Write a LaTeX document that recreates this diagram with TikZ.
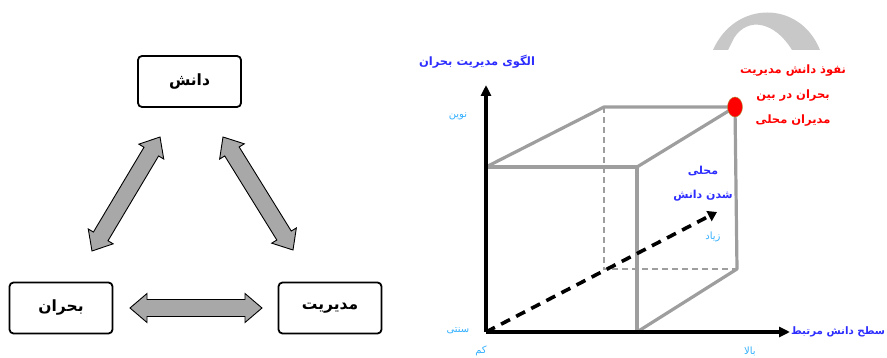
\documentclass[tikz,border=0pt]{standalone}
\usepackage{fontspec}
\newfontfamily\fa[Script=Arabic]{DejaVu Sans}
\TeXXeTstate=1
\usetikzlibrary{calc,arrows.meta,shapes.geometric}
\definecolor{labblue}{RGB}{45,45,255}
\definecolor{lightb}{RGB}{50,175,255}
\definecolor{cubegray}{RGB}{158,158,158}
\definecolor{arrgray}{RGB}{168,168,168}
\definecolor{topgray}{RGB}{200,200,200}
\definecolor{dotedge}{RGB}{170,150,60}
\newcommand\rtl[1]{\beginR #1\endR}
\newcommand\fatarrow[2]{%
  \coordinate (fa1) at ($(#1)!17pt!(#2)$);
  \coordinate (fa2) at ($(#2)!17pt!(#1)$);
  \draw[fatarrowstyle] (#1) -- ($(fa1)!14.5pt!90:(#2)$) -- ($(fa1)!8.5pt!90:(#2)$)
    -- ($(fa2)!8.5pt!-90:(#1)$) -- ($(fa2)!14.5pt!-90:(#1)$) -- (#2)
    -- ($(fa2)!14.5pt!90:(#1)$) -- ($(fa2)!8.5pt!90:(#1)$)
    -- ($(fa1)!8.5pt!-90:(#2)$) -- ($(fa1)!14.5pt!-90:(#2)$) -- cycle;}
\begin{document}
\begin{tikzpicture}[x=1pt,y=-1pt,
  box/.style={draw=black, line width=1.8pt, rounded corners=4pt, fill=white,
    minimum width=103pt, minimum height=51pt, inner sep=0pt,
    font=\fa\bfseries\fontsize{15.5}{18}\selectfont},
  fatarrowstyle/.style={draw=black, line width=0.9pt, fill=arrgray, line join=miter},
  cube/.style={draw=cubegray, line width=3.2pt, line join=round},
  cubedash/.style={draw=cubegray, line width=1.6pt, dash pattern=on 6pt off 4pt},
  axis/.style={draw=black, line width=3.2pt, -{Triangle[length=11pt,width=10pt]}},
  bluelab/.style={text=labblue, font=\fa\bfseries\fontsize{11.5}{14}\selectfont, inner sep=0pt},
  redlab/.style={text=red, font=\fa\bfseries\fontsize{11.5}{25}\selectfont, inner sep=0pt, align=center},
  smalllab/.style={text=lightb, font=\fa\fontsize{10}{11}\selectfont, inner sep=0pt}]
\useasboundingbox (0,0) rectangle (887,358);

% ---------- left diagram ----------
\node[box] (danesh) at (189.5,81.5) {\rtl{دانش}};
\node[box] (bohran) at (61,308) {\rtl{بحران}};
\node[box] (modir) at (330,308) {\rtl{مدیریت}};

\coordinate (l1) at (92,251);  \coordinate (l2) at (160,137);
\coordinate (r1) at (223,137); \coordinate (r2) at (293,250);
\coordinate (h1) at (130,308); \coordinate (h2) at (262,308);
\fatarrow{l1}{l2}
\fatarrow{r1}{r2}
\fatarrow{h1}{h2}

% ---------- right diagram ----------
\fill[topgray] (713,50) .. controls (735,0) and (800,0) .. (820,50) -- (792,50)
  .. controls (775,22) and (748,16) .. (734,38) -- (728,50) -- cycle;

\coordinate (O) at (486,332);
\coordinate (Ytip) at (486,85);
\coordinate (Xtip) at (790,332);
\coordinate (FTL) at (486,167);
\coordinate (FTR) at (637,167);
\coordinate (FBR) at (637,332);
\coordinate (BTL) at (604,107);
\coordinate (BTR) at (735,107);
\coordinate (BBR) at (737,269);
\coordinate (BBL) at (604,269);
\coordinate (Dtip) at (717,212);

\draw[cubedash] (BTL) -- (BBL) -- (BBR);
\draw[cube] (FTL) -- (FTR) -- (FBR);
\draw[cube] (FTL) -- (BTL) -- (BTR) -- (BBR) -- (FBR);
\draw[cube] (FTR) -- (BTR);

\draw[axis] (O) -- (Ytip);
\draw[axis] (O) -- (Xtip);
\draw[black, line width=3.6pt, dash pattern=on 10pt off 7pt,
  -{Triangle[length=9pt,width=11pt]}] (O) -- (Dtip);

\node[draw=dotedge, line width=0.4pt, fill=red, ellipse,
  minimum width=15pt, minimum height=20pt, inner sep=0pt] (dot) at (BTR) {};

\node[bluelab] (ylab) at (477,62) {\rtl{الگوی مدیریت بحران}};
\node[bluelab, anchor=west, font=\fa\bfseries\fontsize{10.3}{13}\selectfont] (xlab) at (791,332) {\rtl{سطح دانش مرتبط}};
\node[bluelab, align=center, font=\fa\bfseries\fontsize{11}{24}\selectfont] (zlab) at (703,184) {\rtl{محلی}\\\rtl{شدن دانش}};
\node[redlab] (rlab) at (793,96) {\rtl{نفوذ دانش مدیریت}\\\rtl{بحران در بین}\\\rtl{مدیران محلی}};

\node[smalllab] (novin) at (458,116) {\rtl{نوین}};
\node[smalllab] (sonati) at (458,331) {\rtl{سنتی}};
\node[smalllab] (kam) at (481,351) {\rtl{کم}};
\node[smalllab] (bala) at (750,351) {\rtl{بالا}};
\node[smalllab] (ziad) at (713,237) {\rtl{زیاد}};
\end{tikzpicture}
\end{document}
